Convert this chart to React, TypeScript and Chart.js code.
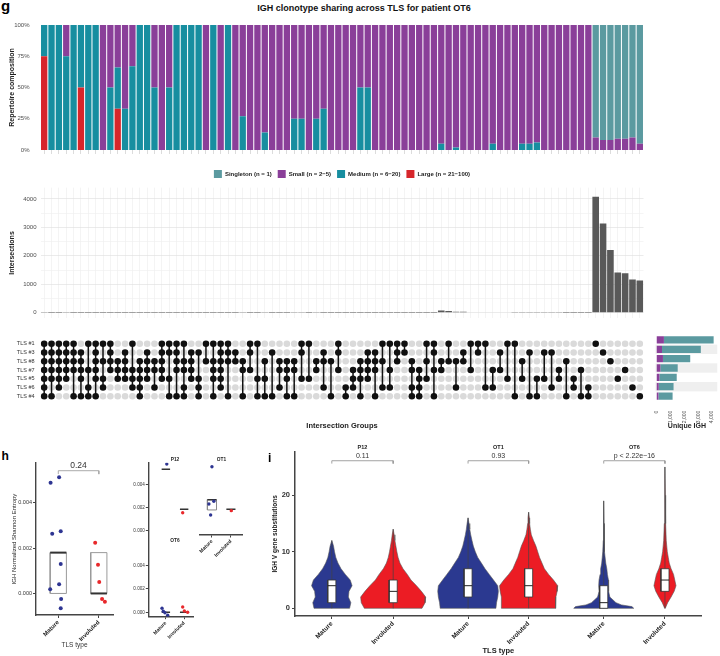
import React, { useEffect, useRef } from "react";
import { Chart, registerables } from "chart.js";

Chart.register(...registerables);

const FONT = "'Liberation Sans', Arial, Helvetica, sans-serif";
Chart.defaults.font.family = FONT;

// ================= Panel g data =================
const compLarge = [
  75, 0, 0, 0, 0, 50, 0, 0, 0, 0, 33, 0, 0, 0, 0, 0, 0, 0, 0, 0,
  0, 0, 0, 0, 0, 0, 0, 0, 0, 0,
  0, 0, 0, 0, 0, 0, 0, 0, 0, 0,
  0, 0, 0, 0, 0, 0, 0, 0, 0, 0,
  0, 0, 0, 0, 0, 0, 0, 0, 0, 0,
  0, 0, 0, 0, 0, 0, 0, 0, 0, 0,
  0, 0, 0, 0, 0, 0, 0, 0, 0, 0,
  0, 0,
];
const compMedium = [
  25, 100, 100, 75, 100, 50, 100, 100, 0, 50, 33, 33, 67, 100, 100, 50, 0, 50, 100, 100,
  100, 100, 0, 100, 0, 100, 0, 27, 0, 0,
  14, 0, 0, 0, 25, 25, 0, 25, 33, 0,
  0, 0, 0, 50, 50, 0, 0, 0, 0, 0,
  0, 0, 0, 0, 5, 0, 2, 0, 0, 0,
  0, 5, 0, 0, 0, 5, 5, 6, 0, 0,
  0, 0, 0, 0, 0, 0, 0, 0, 0, 0,
  0, 0,
];
const compSmall = [
  0, 0, 0, 25, 0, 0, 0, 0, 100, 50, 34, 67, 33, 0, 0, 50, 100, 50, 0, 0,
  0, 0, 100, 0, 100, 0, 100, 73, 100, 100,
  86, 100, 100, 100, 75, 75, 100, 75, 67, 100,
  100, 100, 100, 50, 50, 100, 100, 100, 100, 100,
  100, 100, 100, 100, 95, 100, 98, 100, 100, 100,
  100, 95, 100, 100, 100, 95, 95, 94, 100, 100,
  100, 100, 100, 100, 100, 10, 8, 8, 9, 9,
  10, 5,
];
const compSingleton = [
  0, 0, 0, 0, 0, 0, 0, 0, 0, 0, 0, 0, 0, 0, 0, 0, 0, 0, 0, 0,
  0, 0, 0, 0, 0, 0, 0, 0, 0, 0,
  0, 0, 0, 0, 0, 0, 0, 0, 0, 0,
  0, 0, 0, 0, 0, 0, 0, 0, 0, 0,
  0, 0, 0, 0, 0, 0, 0, 0, 0, 0,
  0, 0, 0, 0, 0, 0, 0, 0, 0, 0,
  0, 0, 0, 0, 0, 90, 92, 92, 91, 91,
  90, 95,
];
const compNames = ["Large (n = 21−100)", "Medium (n = 6−20)", "Small (n = 2−5)", "Singleton (n = 1)"];
const compTicks = [0, 25, 50, 75, 100];

const intersectionSize = [
  4, 2, 2, 4, 1, 2, 1, 1, 2, 2, 3, 3, 3, 1, 1, 2, 1, 2, 1, 1,
  1, 1, 1, 1, 1, 1, 1, 11, 2, 2,
  7, 3, 2, 2, 4, 4, 2, 4, 3, 2,
  2, 2, 2, 2, 2, 3, 3, 3, 3, 3,
  3, 3, 3, 3, 76, 56, 33, 33, 20, 18,
  17, 15, 14, 12, 11, 10, 9, 8, 6, 5,
  4, 3, 3, 2, 2, 4076, 3140, 2205, 1411, 1388,
  1168, 1135,
];
const sizeTicks = [0, 500, 1000, 1500, 2000, 2500, 3000, 3500, 4000];

const tlsLabels = ["TLS #1", "TLS #3", "TLS #8", "TLS #7", "TLS #5", "TLS #6", "TLS #4"];
const tls1Cols = [0, 1, 2, 3, 4, 6, 7, 8, 9, 12, 16, 17, 18, 19, 22, 23, 24, 25, 28, 29, 35, 36, 40, 46, 47, 48, 49, 52, 53, 55, 58, 59, 60, 63, 64, 75];
const tls3Cols = [0, 1, 2, 3, 4, 5, 7, 9, 11, 14, 16, 17, 18, 20, 21, 24, 25, 26, 28, 31, 35, 38, 40, 44, 45, 48, 49, 53, 57, 59, 62, 66, 68, 69, 76];
const tls8Cols = [0, 1, 2, 3, 4, 5, 7, 8, 9, 10, 11, 13, 14, 15, 16, 18, 19, 20, 22, 23, 24, 25, 26, 27, 30, 32, 33, 34, 37, 38, 39, 43, 44, 45, 46, 48, 50, 52, 54, 55, 56, 57, 65, 71, 77];
const tls7Cols = [0, 1, 2, 3, 4, 5, 6, 7, 9, 10, 11, 12, 13, 14, 15, 16, 18, 19, 20, 23, 24, 27, 28, 32, 33, 34, 37, 40, 42, 43, 44, 45, 47, 50, 51, 53, 54, 58, 61, 62, 70, 73, 79];
const tls5Cols = [0, 1, 2, 3, 5, 7, 8, 10, 11, 12, 13, 14, 16, 17, 20, 21, 23, 24, 29, 30, 33, 35, 36, 42, 43, 44, 51, 52, 63, 65, 67, 68, 70, 72, 78];
const tls6Cols = [0, 2, 6, 8, 12, 13, 15, 19, 21, 24, 32, 38, 41, 42, 46, 47, 50, 51, 56, 60, 61, 69, 72, 74, 80];
const tls4Cols = [0, 1, 4, 5, 6, 7, 13, 17, 18, 19, 21, 23, 25, 27, 29, 30, 31, 33, 34, 39, 41, 43, 45, 50, 51, 53, 64, 66, 67, 71, 73, 74, 81];

const setSmall = [535, 396, 465, 278, 208, 160, 139];
const setSingleton = [3583, 2798, 1965, 1250, 1250, 1069, 1021];
const setTicks = [0, 1000, 2000, 3000, 4000];

// ================= Panel h data =================
const tlsTypes = ["Mature", "Involuted"];
const entropyTicks = [0, 0.002, 0.004];
const hMatureX = [0.81, 1.02, 0.85, 1.06, 1.06, 1.02, 0.8, 1.07, 1.06];
const hMatureY = [0.00488, 0.00512, 0.00263, 0.00274, 0.0013, 0.00041, 0.00018, -0.00024, -0.00065];
const hInvolutedX = [1.91, 1.98, 2.01, 2.08, 2.15];
const hInvolutedY = [0.00224, 0.00126, 0.00051, -0.00024, -0.00037];
const hBoxLow = [0, 0];
const hBoxHigh = [0.0018, 0.0018];
const hBoxMid = [0.0018, 0];

const p12MatX = [1.05];
const p12MatY = [0.00583];
const p12InvX = [1.92];
const p12InvY = [0.00159];
const p12Mid = [0.00537, 0.00189];

const ot1MatX = [1.0, 1.1, 0.84, 0.93];
const ot1MatY = [0.00559, 0.00258, 0.00235, 0.00139];
const ot1InvX = [2.02];
const ot1InvY = [0.00177];
const ot1MatBox = [0.00183, 0.00272];
const ot1Mid = [0.00272, 0.00189];

const ot6MatX = [0.79, 0.86, 0.95, 1.1];
const ot6MatY = [0.00034, 0.00009, -0.00004, -0.00026];
const ot6InvX = [1.92, 2.01, 2.19];
const ot6InvY = [0.00045, 0.00011, 0.0];
const ot6Mid = [0, 0];

// ================= Panel i data =================
const subTicks = [0, 10, 20];
const p12MatLevels = [0, 1, 2, 3, 4, 5, 6, 7, 8, 9, 10, 11, 12];
const p12MatHalf = [0.29, 0.31, 0.27, 0.28, 0.33, 0.3, 0.22, 0.15, 0.1, 0.065, 0.044, 0.028, 0];
const p12InvLevels = [0, 1, 2, 3, 4, 5, 6, 7, 8, 9, 10, 11, 12, 13, 14];
const p12InvHalf = [0.47, 0.52, 0.53, 0.46, 0.38, 0.29, 0.23, 0.16, 0.11, 0.08, 0.06, 0.044, 0.028, 0.016, 0];
const ot1MatLevels = [0, 1, 2, 3, 4, 5, 6, 7, 8, 9, 10, 11, 12, 13, 14, 15, 16];
const ot1MatHalf = [0.46, 0.47, 0.49, 0.5, 0.49, 0.42, 0.35, 0.28, 0.22, 0.16, 0.12, 0.087, 0.065, 0.044, 0.028, 0.016, 0];
const ot1InvLevels = [0, 1, 2, 3, 4, 5, 6, 7, 8, 9, 10, 11, 12, 13, 14, 15, 16, 17];
const ot1InvHalf = [0.44, 0.45, 0.45, 0.47, 0.48, 0.41, 0.33, 0.26, 0.22, 0.18, 0.15, 0.12, 0.08, 0.044, 0.028, 0.016, 0.011, 0];
const ot6MatLevels = [0, 0.3, 0.6, 1, 2, 3, 4, 5, 6, 7, 8, 10, 12, 15, 19];
const ot6MatHalf = [0.49, 0.46, 0.29, 0.2, 0.1, 0.077, 0.082, 0.077, 0.06, 0.05, 0.033, 0.016, 0.008, 0.005, 0];
const ot6InvLevels = [0, 1, 2, 3, 4, 5, 6, 7, 8, 9, 10, 12, 15, 20, 25];
const ot6InvHalf = [0.005, 0.044, 0.1, 0.15, 0.18, 0.16, 0.14, 0.1, 0.07, 0.054, 0.038, 0.021, 0.011, 0.005, 0];
// [min, q1, median, q3, max]
const p12MatStats = [0, 1, 4, 5, 12];
const p12InvStats = [0, 1, 3, 5, 14];
const ot1MatStats = [0, 2, 4, 7, 16];
const ot1InvStats = [0, 2, 4, 7, 17];
const ot6MatStats = [0, 0, 1, 4, 19];
const ot6InvStats = [0, 3, 5, 7, 25];
const pValues = ["0.11", "0.93", "p < 2.22e−16"];
const facetNames = ["P12", "OT1", "OT6"];

// ================= colours =================
const C_SINGLE = "#5b9aa0";
const C_SMALL = "#8a3f99";
const C_MEDIUM = "#178ea0";
const C_LARGE = "#d7262b";
const C_BAR = "#595959";
const C_BLUE = "#2e3592";
const C_RED = "#e8282b";
const V_BLUE = "#2b3990";
const V_RED = "#ec1c24";
const AXIS = "#444";

// ================= helpers =================
type Box = { l: number; t: number; w: number; h: number };
type P = { x: number; y: number | null };

const f = (size: number, weight: string = "normal") => ({ size, weight, family: FONT });

function axis(o: any) {
  const res: any = {
    type: "linear",
    min: o.min,
    max: o.max,
    display: o.display ?? true,
    reverse: !!o.reverse,
    grid: {
      display: !!o.tickLen,
      drawOnChartArea: false,
      drawTicks: !!o.tickLen,
      tickLength: o.tickLen || 0,
      color: AXIS,
      tickColor: AXIS,
      tickWidth: 1,
    },
    border: { display: !!o.border, color: AXIS, width: o.border || 0 },
    ticks: {
      display: !!o.showTicks,
      autoSkip: false,
      font: o.font,
      color: o.color || "#333",
      padding: o.pad ?? 2,
      callback: o.fmt || ((v: number) => String(v)),
      minRotation: o.rot || 0,
      maxRotation: o.rot || 0,
    },
    title: o.title
      ? { display: true, text: o.title, font: o.titleFont, color: o.titleColor || "#222", padding: o.titlePad || 0 }
      : { display: false },
  };
  if (o.ticks) res.afterBuildTicks = (s: any) => { s.ticks = o.ticks.map((v: number) => ({ value: v })); };
  if (o.fit !== undefined) res.afterFit = (s: any) => { if (o.isX) s.height = o.fit; else s.width = o.fit; };
  return res;
}

function textPlugin(items: { x: number; y: number; text: string; font: string; color: string }[]) {
  return {
    id: "textLabels",
    afterDraw(chart: any) {
      const { ctx } = chart;
      const xs = chart.scales.x;
      const ys = chart.scales.y;
      items.forEach((it) => {
        ctx.save();
        ctx.font = it.font;
        ctx.fillStyle = it.color;
        ctx.textAlign = "center";
        ctx.textBaseline = "middle";
        ctx.fillText(it.text, xs.getPixelForValue(it.x), ys.getPixelForValue(it.y));
        ctx.restore();
      });
    },
  };
}

function stripePlugin(rows: number[], color: string) {
  return {
    id: "stripes",
    beforeDatasetsDraw(chart: any) {
      const { ctx, chartArea } = chart;
      const ys = chart.scales.y;
      const h = Math.abs(ys.getPixelForValue(1) - ys.getPixelForValue(0));
      ctx.save();
      ctx.fillStyle = color;
      rows.forEach((r) => {
        const yc = ys.getPixelForValue(r);
        ctx.fillRect(chartArea.left - 1, yc - h / 2, chartArea.right - chartArea.left + 1, h);
      });
      ctx.restore();
    },
  };
}

const rect = (x0: number, x1: number, y0: number, y1: number): P[] => [
  { x: x0, y: y0 }, { x: x1, y: y0 }, { x: x1, y: y1 }, { x: x0, y: y1 }, { x: x0, y: y0 },
];
const hseg = (x0: number, x1: number, y: number): P[] => [{ x: x0, y }, { x: x1, y }];
const pts = (xs: number[], ys: number[]): P[] => xs.map((x, i) => ({ x, y: ys[i] }));

function violinPolygon(center: number, levels: number[], half: number[]): P[] {
  const left = levels.map((y, i) => ({ x: center - half[i], y }));
  const right = levels.map((y, i) => ({ x: center + half[i], y })).reverse();
  const all = [...left, ...right];
  all.push(all[0]);
  return all;
}

const lineDs = (data: P[], color: string, width: number, order: number, extra: any = {}) => ({
  data, showLine: true, borderColor: color, borderWidth: width, pointRadius: 0, pointHoverRadius: 0, order, ...extra,
});
const dotDs = (data: P[], color: string, r: number, order: number) => ({
  data, pointRadius: r, pointHoverRadius: r, backgroundColor: color, borderWidth: 0, order,
});

const baseOpts = (pad: any) => ({
  responsive: false,
  animation: false as const,
  devicePixelRatio: 1,
  events: [] as any[],
  layout: { padding: pad },
  plugins: { legend: { display: false }, tooltip: { enabled: false } },
});

// ================= chart configs =================
const groupIds = intersectionSize.map((_, i) => String(i + 1));
const tlsMembers = [tls1Cols, tls3Cols, tls8Cols, tls7Cols, tls5Cols, tls6Cols, tls4Cols];

function makeComposition() {
  const mk = (label: string, data: number[], color: string) => ({ label, data, backgroundColor: color, borderWidth: 0 });
  return {
    type: "bar",
    data: {
      labels: groupIds,
      datasets: [
        mk(compNames[0], compLarge, C_LARGE),
        mk(compNames[1], compMedium, C_MEDIUM),
        mk(compNames[2], compSmall, C_SMALL),
        mk(compNames[3], compSingleton, C_SINGLE),
      ],
    },
    options: {
      ...baseOpts({ left: 0, right: 16.5, top: 7, bottom: 0 }),
      datasets: { bar: { categoryPercentage: 1, barPercentage: 0.86 } },
      scales: {
        x: {
          stacked: true,
          offset: true,
          grid: { display: true, offset: false, drawOnChartArea: false, drawTicks: true, tickLength: 4, color: "#dcdcdc", tickColor: "#dcdcdc" },
          border: { display: false },
          ticks: { display: false },
          afterFit: (s: any) => { s.height = 14; },
        },
        y: {
          stacked: true,
          min: 0,
          max: 100,
          afterBuildTicks: (s: any) => { s.ticks = compTicks.map((v) => ({ value: v })); },
          ticks: { callback: (v: number) => v + "%", font: f(6), color: "#4d4d4d", padding: 3 },
          grid: { display: false },
          border: { display: false },
          title: { display: true, text: "Repertoire composition", font: f(7, "bold"), color: "#222", padding: { top: 7.5, bottom: 0 } },
          afterFit: (s: any) => { s.width = 40.5; },
        },
      },
      plugins: {
        tooltip: { enabled: false },
        legend: {
          display: true,
          position: "bottom",
          fullSize: false,
          reverse: true,
          labels: { boxWidth: 8, boxHeight: 8, font: f(6, "bold"), color: "#222", padding: 6 },
        },
      },
    },
  };
}

function makeIntersections() {
  return {
    type: "bar",
    data: {
      labels: groupIds,
      datasets: [{ data: intersectionSize, backgroundColor: C_BAR, borderWidth: 0 }],
    },
    options: {
      ...baseOpts({ left: 0, right: 16.5, top: 6, bottom: 1 }),
      datasets: { bar: { categoryPercentage: 1, barPercentage: 0.9 } },
      scales: {
        x: {
          offset: true,
          grid: { display: true, offset: false, drawTicks: false, color: "#ececec", lineWidth: 0.6 },
          border: { display: false },
          ticks: { display: false },
          afterFit: (s: any) => { s.height = 0; },
        },
        y: {
          min: -200,
          max: 4400,
          afterBuildTicks: (s: any) => { s.ticks = sizeTicks.map((v) => ({ value: v })); },
          ticks: { callback: (v: number) => (v % 1000 === 0 ? String(v) : ""), font: f(6), color: "#4d4d4d", padding: 4 },
          grid: {
            drawTicks: false,
            color: (c: any) => (c.tick && c.tick.value % 1000 === 0 ? "#e2e2e2" : "#f0f0f0"),
            lineWidth: 0.7,
          },
          border: { display: false },
          title: { display: true, text: "Intersections", font: f(7, "bold"), color: "#222", padding: { top: 7.5, bottom: 0 } },
          afterFit: (s: any) => { s.width = 40.5; },
        },
      },
    },
  };
}

function makeMatrix() {
  const memberSets = tlsMembers.map((c) => new Set(c));
  const black: P[] = [];
  const gray: P[] = [];
  const links: P[] = [];
  groupIds.forEach((_, k) => {
    const rows: number[] = [];
    memberSets.forEach((s, r) => {
      if (s.has(k)) { black.push({ x: k, y: r + 1 }); rows.push(r + 1); }
      else gray.push({ x: k, y: r + 1 });
    });
    if (rows.length > 1) {
      links.push({ x: k, y: Math.min(...rows) }, { x: k, y: Math.max(...rows) }, { x: k, y: null });
    }
  });
  return {
    type: "scatter",
    data: {
      datasets: [
        dotDs(gray, "#dadada", 3.3, 3),
        lineDs(links, "#111", 1.5, 2, { spanGaps: false }),
        dotDs(black, "#111", 3.3, 1),
      ],
    },
    options: {
      ...baseOpts({ left: 0, right: 16.5, top: 5.3, bottom: 0 }),
      scales: {
        x: axis({ min: -0.5, max: groupIds.length - 0.5, isX: true, fit: 29.3, title: "Intersection Groups", titleFont: f(7.5, "bold"), titlePad: { top: 0, bottom: 0 } }),
        y: axis({
          min: 0.5, max: 7.5, reverse: true, ticks: [1, 2, 3, 4, 5, 6, 7], showTicks: true,
          fmt: (v: number) => tlsLabels[v - 1], font: f(5.5), color: "#333", pad: 6, fit: 40.5,
        }),
      },
    },
  };
}

function makeSetSizes() {
  return {
    type: "bar",
    data: {
      labels: tlsLabels,
      datasets: [
        { data: setSmall, backgroundColor: C_SMALL, borderWidth: 0 },
        { data: setSingleton, backgroundColor: C_SINGLE, borderWidth: 0 },
      ],
    },
    options: {
      ...baseOpts({ left: 11.5, right: 0, top: 5.3, bottom: 0 }),
      indexAxis: "y",
      datasets: { bar: { categoryPercentage: 1, barPercentage: 0.78 } },
      scales: {
        x: {
          stacked: true,
          min: 0,
          max: 4380,
          afterBuildTicks: (s: any) => { s.ticks = setTicks.map((v) => ({ value: v })); },
          ticks: { autoSkip: false, font: f(5), color: "#4d4d4d", minRotation: 90, maxRotation: 90, padding: 2 },
          grid: { display: false },
          border: { display: false },
          title: { display: true, text: "Unique IGH", font: f(7, "bold"), color: "#222", padding: { top: 0, bottom: 0 } },
          afterFit: (s: any) => { s.height = 29.3; },
        },
        y: { stacked: true, display: false },
      },
    },
    plugins: [stripePlugin([1, 3, 5], "#efefef")],
  };
}

// ---- panel h ----
function makeEntropyMain() {
  const hw = 0.2;
  return {
    type: "scatter",
    data: {
      datasets: [
        lineDs(rect(1 - hw, 1 + hw, hBoxLow[0], hBoxHigh[0]), "#9a9a9a", 1, 5),
        lineDs(rect(2 - hw, 2 + hw, hBoxLow[1], hBoxHigh[1]), "#9a9a9a", 1, 5),
        lineDs(hseg(1 - hw, 1 + hw, hBoxMid[0]), "#333", 2, 4),
        lineDs(hseg(2 - hw, 2 + hw, hBoxMid[1]), "#333", 2, 4),
        lineDs([{ x: 1, y: 0.00526 }, { x: 1, y: 0.00541 }, { x: 2, y: 0.00541 }, { x: 2, y: 0.00526 }], "#aaa", 1, 3),
        dotDs(pts(hMatureX, hMatureY), C_BLUE, 2, 1),
        dotDs(pts(hInvolutedX, hInvolutedY), C_RED, 2, 1),
      ],
    },
    options: {
      ...baseOpts({ left: 0, right: 12, top: 23, bottom: 0 }),
      scales: {
        x: axis({
          min: 0.45, max: 2.35, isX: true, fit: 41, ticks: [1, 2], showTicks: true, fmt: (v: number) => tlsTypes[v - 1],
          font: f(6, "bold"), color: "#222", rot: 45, tickLen: 3, border: 1.4, pad: 1,
          title: "TLS type", titleFont: f(6.5), titleColor: "#333", titlePad: { top: 0, bottom: 7 },
        }),
        y: axis({
          min: -0.00095, max: 0.00575, fit: 36, ticks: entropyTicks, showTicks: true, fmt: (v: number) => v.toFixed(3),
          font: f(5.5), color: "#333", tickLen: 3, border: 1.4, pad: 1,
          title: "IGH Normalized Shannon Entropy", titleFont: f(6), titleColor: "#222", titlePad: { top: 11, bottom: 0 },
        }),
      },
    },
    plugins: [textPlugin([{ x: 1.5, y: 0.00563, text: "0.24", font: `8.5px ${FONT}`, color: "#333" }])],
  };
}

function entropyFacet(o: any) {
  const hw = o.hw;
  const ds: any[] = [];
  if (o.matBox) ds.push(lineDs(rect(1 - hw, 1 + hw, o.matBox[0], o.matBox[1]), "#8a8a8a", 1, 5));
  ds.push(lineDs(hseg(1 - hw, 1 + hw, o.mid[0]), "#333", 1.6, 4));
  ds.push(lineDs(hseg(2 - hw, 2 + hw, o.mid[1]), "#333", 1.6, 4));
  ds.push(dotDs(pts(o.matX, o.matY), C_BLUE, 1.7, 1));
  ds.push(dotDs(pts(o.invX, o.invY), C_RED, 1.7, 1));
  return {
    type: "scatter",
    data: { datasets: ds },
    options: {
      ...baseOpts(o.pad),
      scales: {
        x: o.showX
          ? axis({ min: o.xMin, max: o.xMax, isX: true, fit: o.xFit, ticks: [1, 2], showTicks: true, fmt: (v: number) => tlsTypes[v - 1], font: f(5, "bold"), color: "#222", rot: 45, tickLen: 2.5, border: 1.4, pad: 1 })
          : axis({ min: o.xMin, max: o.xMax, display: false }),
        y: o.showY
          ? axis({ min: o.yMin, max: o.yMax, fit: 48.3, ticks: entropyTicks, showTicks: true, fmt: (v: number) => v.toFixed(3), font: f(4.6), color: "#333", tickLen: 2.5, border: 1.4, pad: 1 })
          : axis({ min: o.yMin, max: o.yMax, display: false }),
      },
    },
    plugins: [textPlugin([{ x: 1.5, y: o.labelY, text: o.name, font: `bold 4.8px ${FONT}`, color: "#222" }])],
  };
}

// ---- panel i ----
function violinFacet(o: any) {
  const bh = 0.066;
  const ds: any[] = [];
  const add = (c: number, levels: number[], half: number[], st: number[], color: string) => {
    ds.push(lineDs(violinPolygon(c, levels, half), "#555", 0.6, 6, { fill: "shape", backgroundColor: color }));
    ds.push(lineDs([{ x: c, y: st[0] }, { x: c, y: st[4] }], "#444", 0.7, 5));
    ds.push(lineDs(rect(c - bh, c + bh, st[1], st[3]), "#333", 0.8, 4, { fill: "shape", backgroundColor: "#ffffff" }));
    ds.push(lineDs(hseg(c - bh, c + bh, st[2]), "#222", 1, 3));
  };
  add(1, o.mLevels, o.mHalf, o.mStats, V_BLUE);
  add(2, o.iLevels, o.iHalf, o.iStats, V_RED);
  ds.push(lineDs([{ x: 1, y: 25.6 }, { x: 1, y: 26.1 }, { x: 2, y: 26.1 }, { x: 2, y: 25.6 }], "#999", 0.9, 2));
  return {
    type: "scatter",
    data: { datasets: ds },
    options: {
      ...baseOpts(o.pad),
      scales: {
        x: axis({
          min: 0.4, max: 2.6, isX: true, fit: 40, ticks: [1, 2], showTicks: true, fmt: (v: number) => tlsTypes[v - 1],
          font: f(6.5, "bold"), color: "#222", rot: 45, tickLen: 3, border: 1.5, pad: 1,
          title: o.xTitle, titleFont: f(7.5, "bold"), titleColor: "#222", titlePad: { top: 0, bottom: 0.5 },
        }),
        y: o.showY
          ? axis({
              min: -1.36, max: 27.7, fit: 43, ticks: subTicks, showTicks: true, font: f(7.5, "bold"), color: "#333", tickLen: 3, border: 1.5, pad: 2,
              title: "IGH V gene substitutions", titleFont: f(6.5, "bold"), titleColor: "#222", titlePad: { top: 19, bottom: 0 },
            })
          : axis({ min: -1.36, max: 27.7, display: false }),
      },
    },
    plugins: [
      textPlugin([
        { x: 1.5, y: 28.4, text: o.name, font: `bold 5.5px ${FONT}`, color: "#222" },
        { x: 1.5, y: 27.0, text: o.p, font: `7px ${FONT}`, color: "#333" },
      ]),
    ],
  };
}

// ================= components =================
function ChartCanvas({ box, make }: { box: Box; make: () => any }) {
  const ref = useRef<HTMLCanvasElement | null>(null);
  useEffect(() => {
    if (!ref.current) return;
    const chart = new Chart(ref.current, make());
    return () => chart.destroy();
  }, []);
  return (
    <canvas
      ref={ref}
      width={box.w}
      height={box.h}
      style={{ position: "absolute", left: box.l, top: box.t, width: box.w, height: box.h }}
    />
  );
}

const letter = (t: string, l: number, top: number, size: number) => (
  <div style={{ position: "absolute", left: l, top, fontSize: size, lineHeight: `${size}px`, fontWeight: 700, color: "#000" }}>{t}</div>
);

export default function App() {
  return (
    <div style={{ position: "absolute", left: 0, top: 0, width: 720, height: 656, background: "#fff", overflow: "hidden", fontFamily: FONT }}>
      {letter("g", 1, -2, 15)}
      <div style={{ position: "absolute", left: 230, width: 268, top: 4, textAlign: "center", fontSize: 9, lineHeight: "9px", fontWeight: 700, color: "#111", whiteSpace: "nowrap" }}>
        IGH clonotype sharing across TLS for patient OT6
      </div>
      <ChartCanvas box={{ l: 0, t: 18, w: 660, h: 170 }} make={makeComposition} />
      <ChartCanvas box={{ l: 0, t: 180, w: 660, h: 146 }} make={makeIntersections} />
      <ChartCanvas box={{ l: 0, t: 330, w: 660, h: 100 }} make={makeMatrix} />
      <ChartCanvas box={{ l: 645, t: 330, w: 75, h: 100 }} make={makeSetSizes} />

      {letter("h", 1.5, 450, 12)}
      <ChartCanvas box={{ l: 0, t: 440, w: 125, h: 216 }} make={makeEntropyMain} />
      <ChartCanvas
        box={{ l: 100, t: 450, w: 100, h: 90 }}
        make={() => entropyFacet({
          name: facetNames[0], pad: { left: 0, right: 6.7, top: 12.7, bottom: 5 }, showY: true, showX: false,
          xMin: 0.04, xMax: 2.5, yMin: -0.00035, yMax: 0.00594, hw: 0.23, labelY: 0.00617,
          matX: p12MatX, matY: p12MatY, invX: p12InvX, invY: p12InvY, mid: p12Mid,
        })}
      />
      <ChartCanvas
        box={{ l: 190, t: 450, w: 60, h: 110 }}
        make={() => entropyFacet({
          name: facetNames[1], pad: { left: 10, right: 7.7, top: 12.7, bottom: 0 }, showY: false, showX: true, xFit: 25,
          xMin: 0.37, xMax: 2.6, yMin: -0.00035, yMax: 0.00594, hw: 0.24, labelY: 0.00617,
          matX: ot1MatX, matY: ot1MatY, invX: ot1InvX, invY: ot1InvY, mid: ot1Mid, matBox: ot1MatBox,
        })}
      />
      <ChartCanvas
        box={{ l: 100, t: 528, w: 100, h: 128 }}
        make={() => entropyFacet({
          name: facetNames[2], pad: { left: 0, right: 6.7, top: 9, bottom: 0 }, showY: true, showX: true, xFit: 39.3,
          xMin: 0.04, xMax: 2.5, yMin: -0.00038, yMax: 0.00646, hw: 0.23, labelY: 0.00615,
          matX: ot6MatX, matY: ot6MatY, invX: ot6InvX, invY: ot6InvY, mid: ot6Mid,
        })}
      />

      {letter("i", 268, 451.5, 12)}
      <ChartCanvas
        box={{ l: 252, t: 440, w: 183, h: 216 }}
        make={() => violinFacet({
          name: facetNames[0], p: pValues[0], pad: { left: 0, right: 5, top: 11.7, bottom: 0 }, showY: true, xTitle: undefined,
          mLevels: p12MatLevels, mHalf: p12MatHalf, mStats: p12MatStats,
          iLevels: p12InvLevels, iHalf: p12InvHalf, iStats: p12InvStats,
        })}
      />
      <ChartCanvas
        box={{ l: 425, t: 440, w: 145, h: 216 }}
        make={() => violinFacet({
          name: facetNames[1], p: pValues[1], pad: { left: 6.7, right: 5, top: 11.7, bottom: 0 }, showY: false, xTitle: "TLS type",
          mLevels: ot1MatLevels, mHalf: ot1MatHalf, mStats: ot1MatStats,
          iLevels: ot1InvLevels, iHalf: ot1InvHalf, iStats: ot1InvStats,
        })}
      />
      <ChartCanvas
        box={{ l: 562, t: 440, w: 158, h: 216 }}
        make={() => violinFacet({
          name: facetNames[2], p: pValues[2], pad: { left: 5, right: 18.3, top: 11.7, bottom: 0 }, showY: false, xTitle: undefined,
          mLevels: ot6MatLevels, mHalf: ot6MatHalf, mStats: ot6MatStats,
          iLevels: ot6InvLevels, iHalf: ot6InvHalf, iStats: ot6InvStats,
        })}
      />
    </div>
  );
}
